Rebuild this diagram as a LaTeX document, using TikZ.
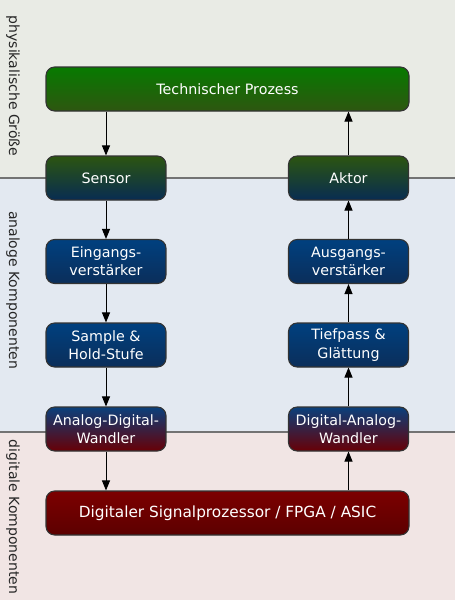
\documentclass[tikz,border=0pt]{standalone}
\usepackage{fontspec}
\setmainfont{DejaVu Sans}
\usetikzlibrary{arrows.meta,shadings}
\definecolor{bgtop}{HTML}{E9EBE5}
\definecolor{bgmid}{HTML}{E3E9F1}
\definecolor{bgbot}{HTML}{F1E5E4}
\definecolor{gtop}{HTML}{077A00}
\definecolor{gbot}{HTML}{2E5610}
\definecolor{sgtop}{HTML}{2C5510}
\definecolor{sgbot}{HTML}{082C52}
\definecolor{btop}{HTML}{00407F}
\definecolor{bbot}{HTML}{0B2E5A}
\definecolor{adtop}{HTML}{0A407C}
\definecolor{adbot}{HTML}{680006}
\definecolor{rtop}{HTML}{7C0000}
\definecolor{rbot}{HTML}{5C0000}
\definecolor{edge}{HTML}{333333}
\tikzset{
  box/.style={draw=edge, line width=0.8pt, rounded corners=6.5, text=white,
    minimum height=44*0.75pt, inner sep=0pt, align=center,
    font=\fontsize{10.7}{13.7}\selectfont},
  smallbox/.style={box, minimum width=120*0.75pt},
  widebox/.style={box, minimum width=363*0.75pt},
  greenbox/.style={top color=gtop, bottom color=gbot},
  sensbox/.style={top color=sgtop, bottom color=sgbot},
  bluebox/.style={top color=btop, bottom color=bbot},
  adbox/.style={top color=adtop, bottom color=adbot},
  redbox/.style={top color=rtop, bottom color=rbot},
  arr/.style={-{Triangle[length=7.5pt,width=6pt]}, line width=0.7pt, black},
  sidelabel/.style={rotate=-90, text=black!85, font=\fontsize{10.5}{12}\selectfont, inner sep=0pt},
  divider/.style={draw=black!55, line width=0.9pt}
}
\begin{document}
\begin{tikzpicture}[x=0.75pt, y=-0.75pt]
\useasboundingbox (0,0) rectangle (455,600);
\fill[bgtop] (0,0) rectangle (455,178);
\fill[bgmid] (0,178) rectangle (455,432);
\fill[bgbot] (0,432) rectangle (455,600);
\coordinate (d1l) at (0,178); \coordinate (d1r) at (455,178);
\coordinate (d2l) at (0,432); \coordinate (d2r) at (455,432);
\draw[divider] (d1l) -- (d1r);
\draw[divider] (d2l) -- (d2r);

\node[sidelabel] (lphys) at (13,86) {physikalische Größe};
\node[sidelabel] (lana) at (13,290) {analoge Komponenten};
\node[sidelabel] (ldig) at (13,517) {digitale Komponenten};

\node[widebox, greenbox] (tp) at (227.5,89) {Technischer Prozess};
\node[smallbox, sensbox] (sensor) at (106,178) {Sensor};
\node[smallbox, sensbox] (aktor) at (348.5,178) {Aktor};
\node[smallbox, bluebox] (ein) at (106,261.5) {Eingangs-\\verstärker};
\node[smallbox, bluebox] (aus) at (348.5,261.5) {Ausgangs-\\verstärker};
\node[smallbox, bluebox] (sh) at (106,345) {Sample \&\\Hold-Stufe};
\node[smallbox, bluebox] (tief) at (348.5,345) {Tiefpass \&\\Glättung};
\node[smallbox, adbox] (adc) at (106,429) {Analog-Digital-\\Wandler};
\node[smallbox, adbox] (dac) at (348.5,429) {Digital-Analog-\\Wandler};
\node[widebox, redbox, font=\fontsize{11.5}{14}\selectfont] (dsp) at (227.5,513) {Digitaler Signalprozessor / FPGA / ASIC};

\draw[arr] (tp.south -| sensor) -- (sensor);
\draw[arr] (sensor) -- (ein);
\draw[arr] (ein) -- (sh);
\draw[arr] (sh) -- (adc);
\draw[arr] (adc) -- (dsp.north -| adc);
\draw[arr] (dsp.north -| dac) -- (dac);
\draw[arr] (dac) -- (tief);
\draw[arr] (tief) -- (aus);
\draw[arr] (aus) -- (aktor);
\draw[arr] (aktor) -- (tp.south -| aktor);
\end{tikzpicture}
\end{document}
